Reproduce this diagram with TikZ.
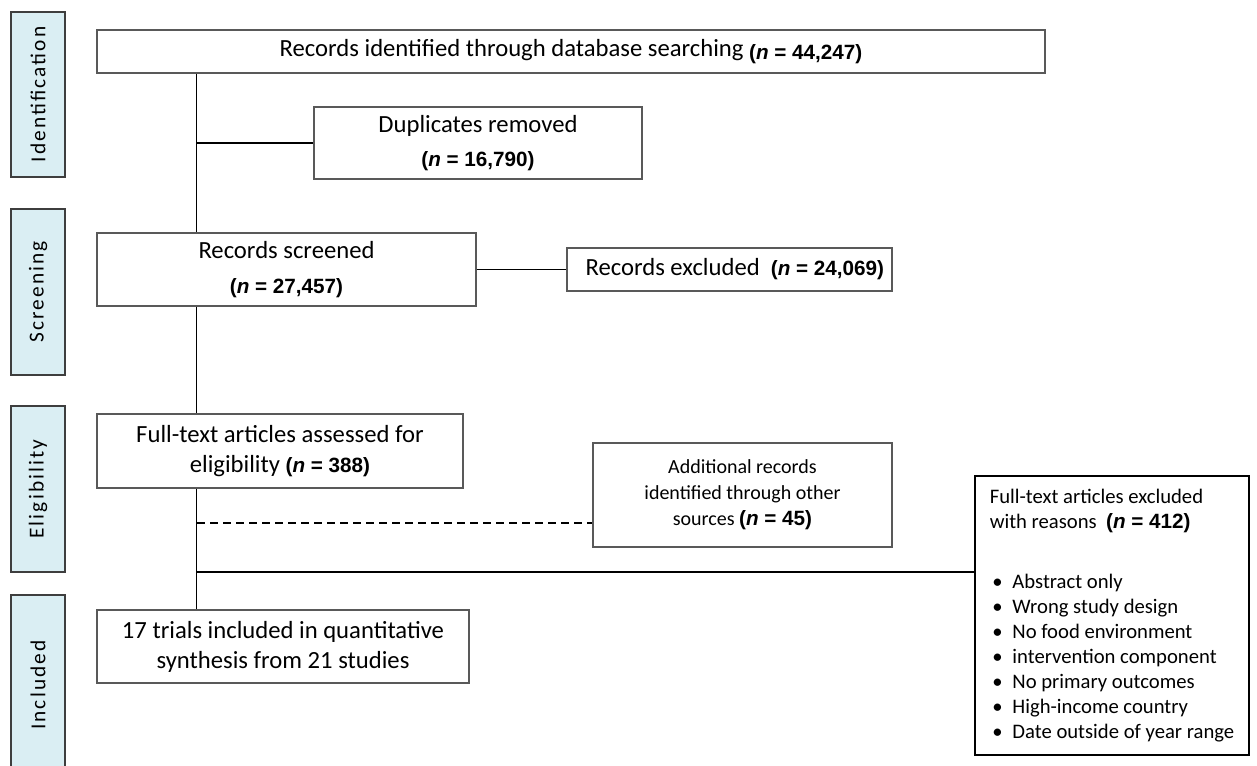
\documentclass[tikz,border=0pt]{standalone}
\usepackage{fontspec}
\setmainfont{Carlito}
\newfontfamily\arialfont{Liberation Sans}
\newfontfamily\sidefont[LetterSpace=10]{Carlito}
\usetikzlibrary{positioning}
\definecolor{sidefill}{HTML}{DAEEF3}
\definecolor{boxline}{HTML}{595959}
\newcommand{\px}{0.75pt}
\newcommand{\nval}[1]{{\arialfont\fontsize{15.5}{18}\selectfont\bfseries(\textit{n} = #1)}}
\newcommand{\rsnitem}[1]{\makebox[17pt][l]{\hspace{2pt}\textbullet}#1}
\tikzstyle{phase} = [draw=boxline!70!black, fill=sidefill, line width=0.9pt, minimum height=54*\px, inner sep=0pt, rotate=90, font=\sidefont\fontsize{16}{18}\selectfont]
\tikzstyle{box} = [draw=boxline, line width=0.8pt, align=center, inner sep=0pt, font=\fontsize{18.5}{22.5}\selectfont]
\tikzstyle{line} = [line width=1.2pt]

\begin{document}
\begin{tikzpicture}[x=0.75pt, y=-0.75pt]
			\clip (0,0) rectangle (1257,766);

			%--Phases--%
			\node(idph)[phase, minimum width=165*\px] at (38,94.5){Identification};
			\node(scph)[phase, minimum width=166*\px] at (38,292){Screening};
			\node(elph)[phase, minimum width=166*\px] at (38,489){Eligibility};
			\node(inph)[phase, minimum width=180*\px] at (38,685){Included};

			%--Records--%
			\node(ident)[box, minimum width=948*\px, minimum height=43*\px] at (571,51.5){Records identified through database searching \raisebox{-2pt}{\nval{44,247}}};
			\node(dup)[box, minimum width=328*\px, minimum height=72*\px, font=\fontsize{18.5}{25.5}\selectfont] at (478,143){Duplicates removed\\\nval{16,790}};
			\node(screened)[box, minimum width=379*\px, minimum height=73*\px, font=\fontsize{18.5}{26.25}\selectfont] at (286.5,269.5){Records screened\\\nval{27,457}};
			\node(excl)[box, minimum width=325*\px, minimum height=43*\px] at (729.5,269.5){\hspace{8pt}Records excluded\ \ \nval{24,069}};

			%--Full text--%
			\node(full)[box, minimum width=366*\px, minimum height=74*\px] at (280,451){Full-text articles assessed for\\eligibility \nval{388}};
			\node(add)[box, minimum width=299*\px, minimum height=104*\px, font=\fontsize{15}{19.5}\selectfont] at (742.5,495){Additional records\\identified through other\\sources \nval{45}};
			\node(trials)[box, minimum width=372*\px, minimum height=73*\px] at (283,646.5){17 trials included in quantitative\\synthesis from 21 studies};
			\node(rsn)[box, draw=black, line width=1.2pt, align=left, minimum width=274*\px, minimum height=279*\px, font=\fontsize{15.5}{18.75}\selectfont] at (1112,615.5){Full-text articles excluded\\with reasons\ \ \nval{412}\\[26.25pt]
				\rsnitem{Abstract only}\\
				\rsnitem{Wrong study design}\\
				\rsnitem{No food environment}\\
				\rsnitem{intervention component}\\
				\rsnitem{No primary outcomes}\\
				\rsnitem{High-income country}\\
				\rsnitem{Date outside of year range}};

			%--Flow lines--%
			\path (ident.south west) ++(100,0) coordinate (top);
			\draw[line] (top) -- (top |- screened.north);
			\draw[line] (top |- dup.west) -- (dup.west);
			\draw[line] (screened.east) -- (excl.west);
			\draw[line] (top |- screened.south) -- (top |- full.north);
			\draw[line] (top |- full.south) -- (top |- trials.north);
			\coordinate(dsh) at (197,523);
			\draw[line, dash pattern=on 6pt off 3.75pt] (dsh) -- (dsh -| add.west);
			\coordinate(sol) at (197,572);
			\draw[line] (sol) -- (sol -| rsn.west);
		\end{tikzpicture}
\end{document}
